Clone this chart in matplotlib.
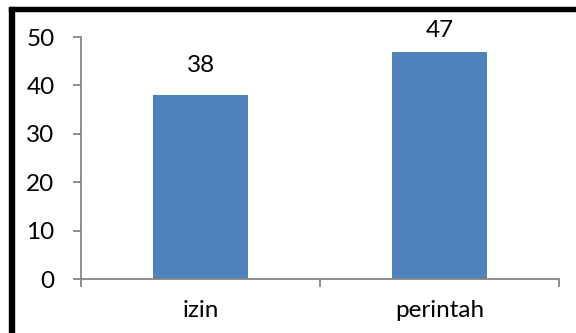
import matplotlib
matplotlib.use("Agg")
import matplotlib.pyplot as plt
from matplotlib.patches import Rectangle

categories = ["izin", "perintah"]
values = [38, 47]
y_ticks = [0, 10, 20, 30, 40, 50]

plt.rcParams['font.family'] = ['Lato', 'DejaVu Sans']

W, H = 576, 333
fig = plt.figure(figsize=(W / 100, H / 100), dpi=100)
fig.patch.set_facecolor("white")

# plot area in pixels: x 81..559, y 37..279
ax = fig.add_axes([81 / W, (H - 279) / H, (559 - 81) / W, (279 - 37) / H])

axis_grey = "#868686"
x = list(range(len(categories)))
ax.bar(x, values, width=0.4, color="#4F81BD", zorder=2)

for xi, v in zip(x, values):
    ax.text(xi, min(v + 3.9, 49.2), str(v), ha="center", va="bottom",
            fontsize=17.5, color="black", clip_on=False)

ax.set_xlim(-0.5, len(categories) - 0.5)
ax.set_ylim(0, 50)
ax.set_yticks(y_ticks)
ax.set_yticklabels([str(t) for t in y_ticks])
ax.set_xticks(x)
ax.set_xticklabels(categories)
ax.set_xticks([i - 0.5 for i in range(len(categories) + 1)], minor=True)

for s in ["top", "right"]:
    ax.spines[s].set_visible(False)
for s in ["left", "bottom"]:
    ax.spines[s].set_color(axis_grey)
    ax.spines[s].set_linewidth(1.3)

ax.tick_params(axis="y", direction="out", length=6, width=1.3, color=axis_grey,
               pad=13, labelsize=17.5)
ax.tick_params(axis="x", which="major", length=0, pad=15, labelsize=17.5)
ax.tick_params(axis="x", which="minor", direction="out", length=6, width=1.3,
               color=axis_grey)

# black frame (left and top edges)
fig.patches.append(Rectangle((9 / W, 0), 5 / W, (H - 7) / H,
                             transform=fig.transFigure, color="black"))
fig.patches.append(Rectangle((9 / W, (H - 10.5) / H), (W - 9) / W, 3.5 / H,
                             transform=fig.transFigure, color="black"))

fig.savefig("out.png", dpi=100)
